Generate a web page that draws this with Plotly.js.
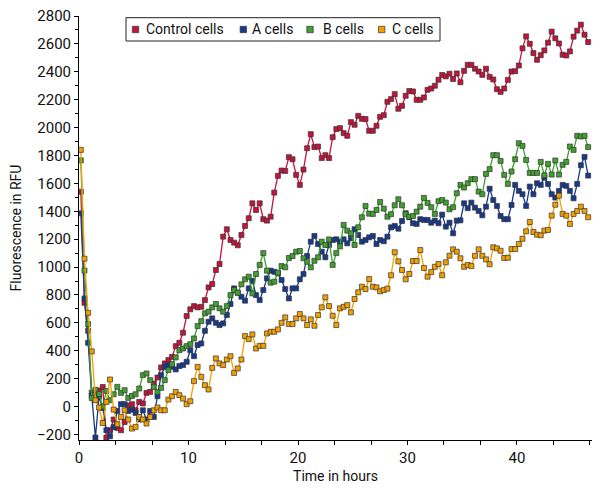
<!DOCTYPE html>
<html>
<head>
<meta charset="utf-8">
<script src="https://cdn.plot.ly/plotly-3.0.1.min.js"></script>
<style>
  body { margin: 0; background: #fff; }
  #graph { width: 600px; height: 493px; }
</style>
</head>
<body>
<div id="graph"></div>
<script>
// readings every 20 min, first one 10 min after start
var intervalHours = 1 / 3;
var firstReading = 1 / 6;

var seriesNames = ['Control cells', 'A cells', 'B cells', 'C cells'];
var seriesColors = ['#c4143c', '#173a8c', '#40a030', '#f2a000'];

var controlCells = [
  1540, 744, 543, 100, 95, 115, 140, -223, -170, -93,
  -154, -170, -111, 7, 17, -27, 33, 22, 98, 105,
  165, 208, 280, 309, 333, 356, 433, 457, 529, 649,
  697, 720, 711, 715, 763, 854, 878, 979, 1022, 1218,
  1271, 1194, 1175, 1156, 1230, 1295, 1350, 1457, 1409, 1457,
  1343, 1333, 1361, 1534, 1654, 1692, 1689, 1788, 1773, 1661,
  1589, 1699, 1852, 1953, 1860, 1864, 1781, 1802, 1781, 1931,
  1989, 1996, 1960, 1941, 2039, 2020, 2084, 2063, 2061, 1977,
  1977, 2013, 2077, 2089, 2185, 2204, 2240, 2135, 2156, 2228,
  2262, 2259, 2199, 2199, 2216, 2271, 2280, 2300, 2343, 2377,
  2367, 2386, 2348, 2388, 2325, 2407, 2450, 2450, 2422, 2402,
  2378, 2422, 2364, 2345, 2275, 2256, 2280, 2342, 2402, 2404,
  2445, 2568, 2654, 2601, 2534, 2486, 2519, 2553, 2609, 2688,
  2640, 2603, 2522, 2517, 2546, 2652, 2695, 2738, 2666, 2613
];

var aCells = [
  1385, 775, 457, 78, -222, 70, -10, -170, -213, -147,
  -32, 17, 17, -32, -22, -46, -93, -27, -93, -32,
  -75, 74, 225, 284, 300, 285, 266, 290, 297, 321,
  404, 361, 441, 452, 543, 608, 632, 600, 584, 596,
  656, 735, 847, 816, 787, 759, 847, 902, 799, 763,
  835, 919, 974, 966, 955, 907, 842, 775, 847, 847,
  912, 950, 1079, 1182, 1223, 1165, 1110, 1070, 1158, 1194,
  1199, 1182, 1199, 1170, 1206, 1271, 1230, 1182, 1194, 1213,
  1223, 1165, 1194, 1185, 1218, 1285, 1295, 1275, 1330, 1386,
  1357, 1314, 1309, 1343, 1338, 1338, 1318, 1333, 1314, 1376,
  1290, 1318, 1242, 1333, 1335, 1457, 1422, 1462, 1426, 1402,
  1371, 1433, 1562, 1481, 1438, 1366, 1343, 1343, 1445, 1589,
  1546, 1522, 1438, 1577, 1522, 1601, 1589, 1641, 1596, 1522,
  1498, 1546, 1589, 1582, 1546, 1493, 1596, 1730, 1790, 1656
];

var bCells = [
  1765, 975, 591, 60, 120, 90, 0, 112, 45, 88,
  141, 98, 117, 62, 76, 88, 129, 225, 237, 189,
  141, 105, 134, 189, 261, 304, 352, 404, 416, 433,
  447, 488, 577, 612, 668, 680, 711, 735, 704, 680,
  720, 799, 835, 816, 876, 912, 931, 811, 950, 1015,
  1100, 974, 888, 895, 960, 1007, 998, 1065, 1079, 1110,
  1115, 1063, 1038, 998, 1045, 1070, 1182, 1158, 1198, 1015,
  1100, 1148, 1302, 1261, 1242, 1158, 1285, 1357, 1438, 1383,
  1381, 1409, 1467, 1419, 1361, 1379, 1443, 1486, 1443, 1379,
  1361, 1366, 1397, 1433, 1496, 1460, 1429, 1381, 1472, 1481,
  1462, 1414, 1429, 1529, 1589, 1570, 1601, 1630, 1630, 1541,
  1522, 1668, 1702, 1802, 1802, 1761, 1661, 1596, 1685, 1773,
  1888, 1869, 1768, 1675, 1675, 1675, 1754, 1658, 1740, 1663,
  1764, 1663, 1733, 1754, 1864, 1840, 1941, 1936, 1941, 1860
];

var cCells = [
  1840, 1060, 672, 395, 45, -7, -118, 33, 194, -22,
  -127, -75, -27, -93, -158, -146, -75, -93, -122, -75,
  -27, -7, -27, -27, 50, 74, 105, 81, 57, 17,
  38, 182, 284, 213, 153, 122, 277, 345, 309, 297,
  337, 361, 241, 273, 337, 505, 483, 517, 416, 435,
  435, 524, 536, 536, 553, 600, 639, 591, 591, 632,
  663, 632, 584, 625, 579, 656, 711, 783, 720, 651,
  584, 704, 715, 727, 675, 771, 819, 859, 842, 914,
  859, 854, 826, 835, 845, 941, 1106, 1041, 979, 912,
  950, 1043, 1043, 1122, 993, 931, 964, 1002, 1022, 941,
  1034, 1081, 1127, 1110, 1063, 1002, 1015, 1007, 1081, 1127,
  1081, 1055, 1020, 1142, 1134, 1117, 1065, 1067, 1129, 1129,
  1165, 1203, 1256, 1323, 1251, 1232, 1228, 1261, 1266, 1369,
  1447, 1512, 1381, 1369, 1309, 1381, 1402, 1433, 1402, 1357
];

var xTicks = [0, 10, 20, 30, 40];

var times = controlCells.map(function (v, i) {
  return firstReading + i * intervalHours;
});

var allSeries = [controlCells, aCells, bCells, cCells];
var traces = [];

for (var s = 0; s < allSeries.length; s++) {
  traces.push({
    x: times,
    y: allSeries[s],
    name: seriesNames[s],
    mode: 'lines+markers',
    showlegend: false,
    line: { color: seriesColors[s], width: 1.3 },
    marker: {
      symbol: 'square',
      size: 5,
      color: seriesColors[s],
      line: { color: '#333', width: 0.7 }
    }
  });
}

// plot area in pixels, used to place the hand made legend
var plotLeft = 79, plotWidth = 513, plotTop = 16, plotHeight = 424;
function px(x) { return (x - plotLeft) / plotWidth; }
function py(y) { return 1 - (y - plotTop) / plotHeight; }

// the original legend is tighter than plotly's own, so draw it by hand
var keyCentres = [135.5, 243.3, 310, 381.7];
var keyTextStarts = [144, 250, 321, 390];
var keyMiddle = 29.5;
var keyHalf = 3.2;

var shapes = [{
  type: 'rect', xref: 'paper', yref: 'paper',
  x0: px(126), x1: px(440), y0: py(41), y1: py(17.7),
  line: { color: '#222', width: 1 },
  fillcolor: '#fff'
}];
var annotations = [];

for (var s = 0; s < seriesNames.length; s++) {
  shapes.push({
    type: 'rect', xref: 'paper', yref: 'paper',
    x0: px(keyCentres[s] - keyHalf), x1: px(keyCentres[s] + keyHalf),
    y0: py(keyMiddle + keyHalf), y1: py(keyMiddle - keyHalf),
    line: { color: '#333', width: 0.7 },
    fillcolor: seriesColors[s]
  });
  annotations.push({
    xref: 'paper', yref: 'paper',
    x: px(keyTextStarts[s]), y: py(keyMiddle),
    xanchor: 'left', yanchor: 'middle',
    text: seriesNames[s],
    showarrow: false,
    font: { family: 'Roboto, sans-serif', size: 14, color: '#111' }
  });
}

var axisFont = { family: 'Roboto, sans-serif', size: 15, color: '#111' };

var layout = {
  width: 600,
  height: 493,
  margin: { l: plotLeft, r: 600 - plotLeft - plotWidth, t: plotTop, b: 493 - plotTop - plotHeight },
  paper_bgcolor: '#fff',
  plot_bgcolor: '#fff',
  font: { family: 'Roboto, sans-serif', size: 14, color: '#111' },
  showlegend: false,
  shapes: shapes,
  annotations: annotations,
  xaxis: {
    range: [0, 46.85],
    tickmode: 'array',
    tickvals: xTicks,
    ticks: 'outside',
    ticklen: 4,
    tickcolor: '#000',
    tickfont: axisFont,
    showline: true,
    linecolor: '#000',
    linewidth: 1,
    showgrid: false,
    zeroline: false,
    minor: { tickmode: 'linear', tick0: 0, dtick: 10 / 3, ticks: 'outside', ticklen: 4, tickcolor: '#000' },
    title: { text: 'Time in hours', font: { family: 'Roboto, sans-serif', size: 14, color: '#111' }, standoff: 5 }
  },
  yaxis: {
    range: [-240, 2800],
    tick0: 0,
    dtick: 200,
    ticks: 'outside',
    ticklen: 4,
    tickcolor: '#000',
    tickfont: axisFont,
    showline: true,
    linecolor: '#000',
    linewidth: 1,
    showgrid: false,
    zeroline: false,
    minor: { dtick: 100, ticks: 'outside', ticklen: 3, tickcolor: '#000' },
    title: { text: 'Fluorescence in RFU', font: { family: 'Roboto, sans-serif', size: 14, color: '#111' }, standoff: 12 }
  }
};

Plotly.newPlot('graph', traces, layout, { displayModeBar: false, staticPlot: true });
</script>
</body>
</html>
